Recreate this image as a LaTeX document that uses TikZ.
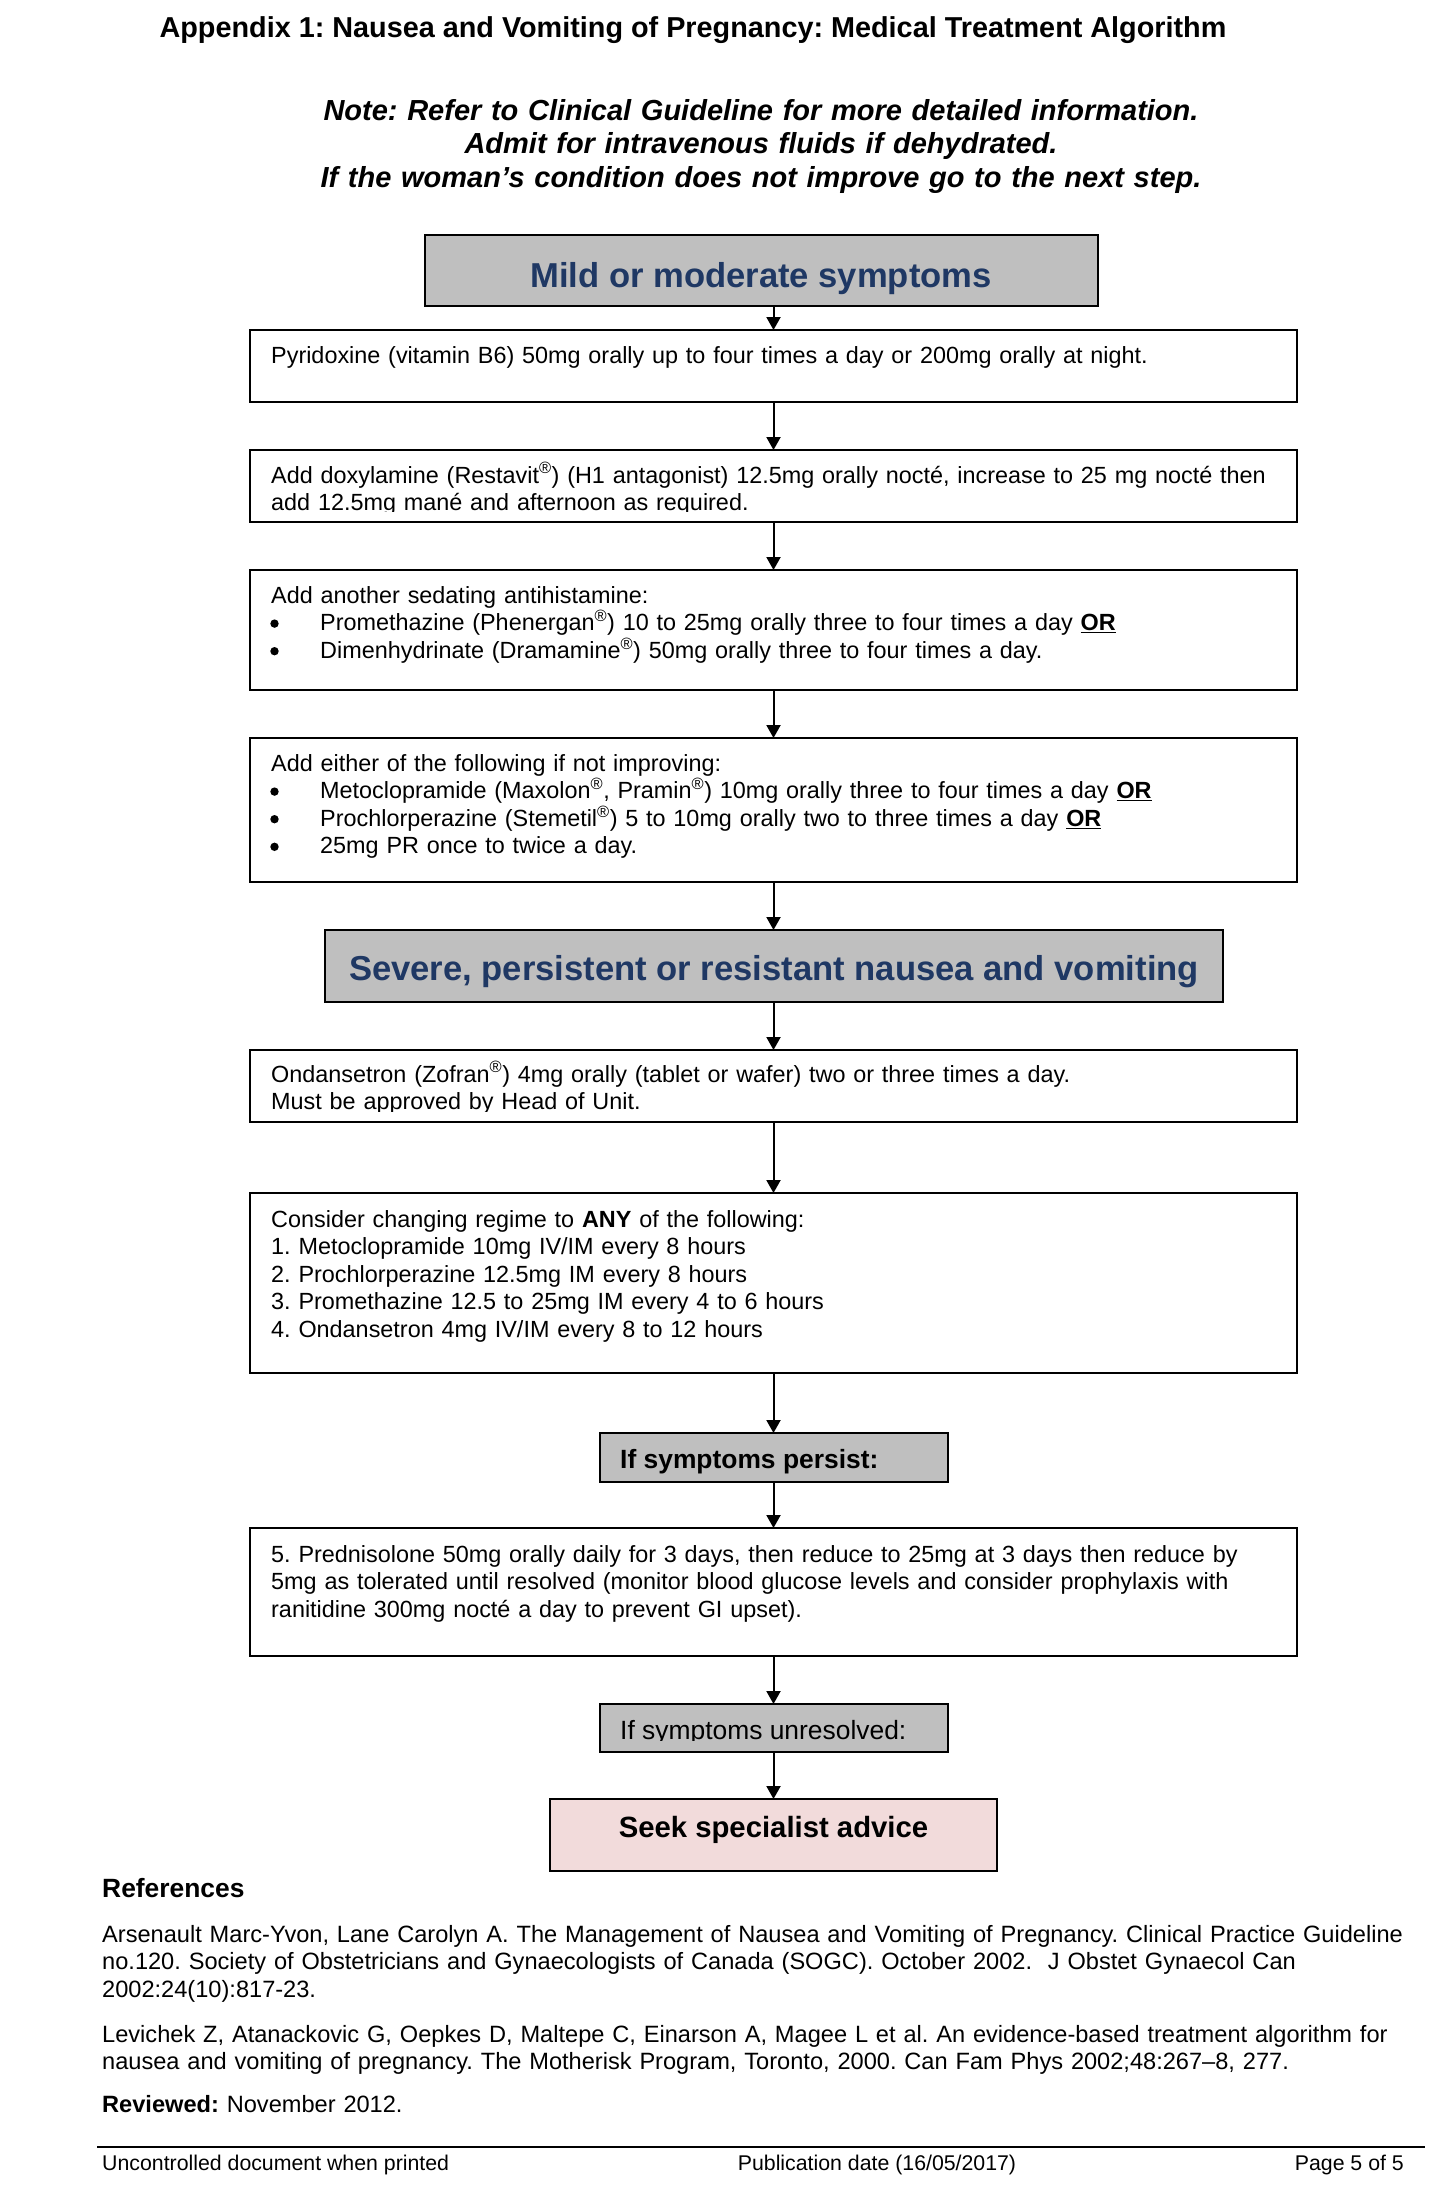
\documentclass[tikz,border=0pt]{standalone}
\usepackage{fontspec}
\setmainfont{Liberation Sans}
\usetikzlibrary{arrows.meta}
\definecolor{navy}{HTML}{1F3864}
\definecolor{boxgray}{HTML}{BFBFBF}
\definecolor{pinkfill}{HTML}{F2DBDB}
\newcommand\regmark{\textsuperscript{®}}
\newcommand\bulitem{\hspace*{49pt}}
\newcommand\ORmark{\underline{\textbf{OR}}}
\newcommand\bodyfont{\fontsize{23.4}{27.6}\selectfont}
\newcommand\reffont{\fontsize{23.6}{27.6}\selectfont}
\tikzset{
  box/.style={draw=black, line width=2.2pt, inner sep=0pt, outer sep=0pt, anchor=north west},
  graybox/.style={box, fill=boxgray},
  pinkbox/.style={box, fill=pinkfill},
  txt/.style={anchor=base west, inner sep=0pt, text width=1150pt, align=left, font=\bodyfont},
  flow/.style={draw=black, line width=2pt, -{Triangle[width=14pt,length=13pt]}},
  headtxt/.style={anchor=base, inner sep=0pt, text=navy, font=\bfseries\fontsize{34.6}{39}\selectfont},
  bulletdot/.style={fill=black},
}
\begin{document}
\frenchspacing
\begin{tikzpicture}[x=1pt,y=-1pt]
\useasboundingbox[fill=white] (0,0) rectangle (1456,2190);

% title and note
\node[anchor=base, inner sep=0pt, font=\bfseries\fontsize{28.8}{33}\selectfont] (title) at (693,37)
  {Appendix 1: Nausea and Vomiting of Pregnancy: Medical Treatment Algorithm};
\node[anchor=base, inner sep=0pt, text width=1100pt, align=center, font=\bfseries\itshape\fontsize{29}{33.5}\selectfont] (note) at (761,120)
  {Note: Refer to Clinical Guideline for more detailed information.\\
   Admit for intravenous fluids if dehydrated.\\
   If the woman’s condition does not improve go to the next step.};

% boxes
\node[graybox, minimum width=673pt, minimum height=71pt] (mild) at (425,235) {};
\node[box, minimum width=1047pt, minimum height=72pt] (b1) at (250,330) {};
\node[box, minimum width=1047pt, minimum height=72pt] (b2) at (250,450) {};
\node[box, minimum width=1047pt, minimum height=120pt] (b3) at (250,570) {};
\node[box, minimum width=1047pt, minimum height=144pt] (b4) at (250,738) {};
\node[graybox, minimum width=898pt, minimum height=72pt] (sev) at (325,930) {};
\node[box, minimum width=1047pt, minimum height=72pt] (ond) at (250,1050) {};
\node[box, minimum width=1047pt, minimum height=180pt] (cons) at (250,1193) {};
\node[graybox, minimum width=348pt, minimum height=49pt] (pers) at (600,1433) {};
\node[box, minimum width=1047pt, minimum height=128pt] (pred) at (250,1528) {};
\node[graybox, minimum width=348pt, minimum height=48pt] (unres) at (600,1704) {};
\node[pinkbox, minimum width=447pt, minimum height=72pt] (seek) at (550,1799) {};

% texts
\node[headtxt] (tmild) at (761,287) {Mild or moderate symptoms};
\node[txt] (t1) at (271,363) {Pyridoxine (vitamin B6) 50mg orally up to four times a day or 200mg orally at night.};
\begin{scope}
\clip (b2.north west) rectangle ([yshift=11pt]b2.south east);
\node[txt] (t2) at (271,483) {Add doxylamine (Restavit\regmark) (H1 antagonist) 12.5mg orally nocté, increase to 25 mg nocté then\\
add 12.5mg mané and afternoon as required.};
\end{scope}
\node[txt] (t3) at (271,603) {Add another sedating antihistamine:\\
\bulitem Promethazine (Phenergan\regmark) 10 to 25mg orally three to four times a day \ORmark\\
\bulitem Dimenhydrinate (Dramamine\regmark) 50mg orally three to four times a day.};
\fill[bulletdot] (274.5,623.6) circle[radius=4.2pt];
\fill[bulletdot] (274.5,651.2) circle[radius=4.2pt];
\node[txt] (t4) at (271,771) {Add either of the following if not improving:\\
\bulitem Metoclopramide (Maxolon\regmark, Pramin\regmark) 10mg orally three to four times a day \ORmark\\
\bulitem Prochlorperazine (Stemetil\regmark) 5 to 10mg orally two to three times a day \ORmark\\
\bulitem 25mg PR once to twice a day.};
\fill[bulletdot] (274.5,791.6) circle[radius=4.2pt];
\fill[bulletdot] (274.5,819.2) circle[radius=4.2pt];
\fill[bulletdot] (274.5,846.8) circle[radius=4.2pt];
\node[headtxt] (tsev) at (774,980) {Severe, persistent or resistant nausea and vomiting};
\begin{scope}
\clip (ond.north west) rectangle ([yshift=11pt]ond.south east);
\node[txt] (t5) at (271,1082) {Ondansetron (Zofran\regmark) 4mg orally (tablet or wafer) two or three times a day.\\
Must be approved by Head of Unit.};
\end{scope}
\node[txt] (t6) at (271,1227) {Consider changing regime to \textbf{ANY} of the following:\\
1. Metoclopramide 10mg IV/IM every 8 hours\\
2. Prochlorperazine 12.5mg IM every 8 hours\\
3. Promethazine 12.5 to 25mg IM every 4 to 6 hours\\
4. Ondansetron 4mg IV/IM every 8 to 12 hours};
\node[anchor=base west, inner sep=0pt, font=\bfseries\fontsize{26.4}{30}\selectfont] (tpers) at (620,1468) {If symptoms persist:};
\node[txt] (t7) at (271,1562) {5. Prednisolone 50mg orally daily for 3 days, then reduce to 25mg at 3 days then reduce by\\
5mg as tolerated until resolved (monitor blood glucose levels and consider prophylaxis with\\
ranitidine 300mg nocté a day to prevent GI upset).};
\begin{scope}
\clip (unres.north west) rectangle ([yshift=12pt]unres.south east);
\node[anchor=base west, inner sep=0pt, font=\fontsize{26.4}{30}\selectfont] (tunres) at (620,1739) {If symptoms unresolved:};
\end{scope}
\node[anchor=base, inner sep=0pt, font=\bfseries\fontsize{29.3}{33}\selectfont] (tseek) at (773.5,1837) {Seek specialist advice};

% connectors
\draw[flow] (mild.south -| b1.north) -- (b1.north);
\draw[flow] (b1.south) -- (b2.north);
\draw[flow] (b2.south) -- (b3.north);
\draw[flow] (b3.south) -- (b4.north);
\draw[flow] (b4.south) -- (b4.south |- sev.north);
\draw[flow] (b4.south |- sev.south) -- (ond.north);
\draw[flow] (ond.south) -- (cons.north);
\draw[flow] (cons.south) -- (cons.south |- pers.north);
\draw[flow] (cons.south |- pers.south) -- (pred.north);
\draw[flow] (pred.south) -- (pred.south |- unres.north);
\draw[flow] (pred.south |- unres.south) -- (pred.south |- seek.north);

% references
\node[anchor=base west, inner sep=0pt, font=\bfseries\fontsize{26.4}{30}\selectfont] (refh) at (102,1897) {References};
\node[txt, text width=1330pt, font=\reffont] (ref1) at (102,1942) {Arsenault Marc-Yvon, Lane Carolyn A. The Management of Nausea and Vomiting of Pregnancy. Clinical Practice Guideline\\
no.120. Society of Obstetricians and Gynaecologists of Canada (SOGC). October 2002.\ \ J Obstet Gynaecol Can\\
2002:24(10):817-23.};
\node[txt, text width=1330pt, font=\reffont] (ref2) at (102,2042) {Levichek Z, Atanackovic G, Oepkes D, Maltepe C, Einarson A, Magee L et al. An evidence-based treatment algorithm for\\
nausea and vomiting of pregnancy. The Motherisk Program, Toronto, 2000. Can Fam Phys 2002;48:267–8, 277.};
\node[txt, font=\reffont] (rev) at (102,2112) {\textbf{Reviewed:} November 2012.};

% footer
\coordinate (fl) at (97,2147);
\coordinate (fr) at (1425,2147);
\draw[line width=2pt] (fl) -- (fr);
\node[anchor=base west, inner sep=0pt, font=\fontsize{21.3}{25}\selectfont] (foot1) at (102,2170) {Uncontrolled document when printed};
\node[anchor=base, inner sep=0pt, font=\fontsize{21.3}{25}\selectfont] (foot2) at (877,2170) {Publication date (16/05/2017)};
\node[anchor=base east, inner sep=0pt, font=\fontsize{21.3}{25}\selectfont] (foot3) at (1404,2170) {Page 5 of 5};
\end{tikzpicture}
\end{document}
